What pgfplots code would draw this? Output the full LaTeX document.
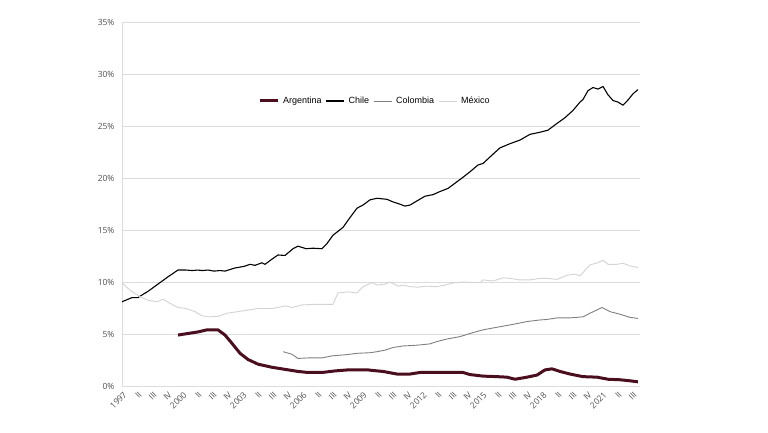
\documentclass[border=0pt]{standalone}
\usepackage{pgfplots}
\pgfplotsset{compat=1.18}
\usepackage{fontspec}
\setmainfont{Liberation Sans}
\newfontfamily\tickfont{Open Sans}
\definecolor{arg}{HTML}{4A0E1F}
\definecolor{col}{HTML}{7F7F7F}
\definecolor{mex}{HTML}{D3D3D3}
\definecolor{grid}{HTML}{DCDCDC}
\definecolor{ticktext}{HTML}{505050}
\begin{document}
\begin{tikzpicture}
\path[use as bounding box] (0pt,0pt) rectangle (768pt,432pt);
\begin{axis}[
  at={(122pt,46pt)}, anchor=south west,
  scale only axis, width=518pt, height=364pt,
  xmin=1997, xmax=2022.9, ymin=0, ymax=35,
  axis lines*=left,
  axis line style={draw=grid, line width=0.8pt},
  ymajorgrids, grid style={draw=grid, line width=0.8pt},
  major tick length=0pt,
  ytick={0,5,...,35},
  yticklabel={\pgfmathprintnumber{\tick}\%},
  /pgf/number format/assume math mode=true,
  yticklabel style={font=\tickfont\fontsize{8.5}{10}\selectfont, text=ticktext, xshift=-4pt},
  xtick={1997,1997.75,...,2022.6},
  xticklabels={1997,II,III,IV,2000,II,III,IV,2003,II,III,IV,2006,II,III,IV,2009,II,III,IV,2012,II,III,IV,2015,II,III,IV,2018,II,III,IV,2021,II,III},
  xticklabel style={font=\tickfont\fontsize{8.5}{10}\selectfont, text=ticktext, yshift=-5pt, xshift=1pt, rotate=45, anchor=north east, inner sep=0pt},
  legend style={at={(0.488,0.783)}, anchor=center, draw=none, fill=none, font=\fontsize{9}{11}\selectfont, column sep=2pt},
  legend columns=4,
  legend image code/.code={\draw[#1] (0pt,0pt) -- (18pt,0pt);},
  line join=round,
]
\addplot[arg, line width=3pt] coordinates {
(1999.8,4.9)(2000.3,5.05)(2000.8,5.2)(2001.25,5.4)(2001.8,5.4)(2002.15,4.9)(2002.5,4.1)(2002.9,3.15)(2003.3,2.55)(2003.8,2.1)(2004.5,1.8)(2005.15,1.6)(2005.8,1.4)(2006.3,1.3)(2007.0,1.3)(2007.65,1.45)(2008.3,1.55)(2009.3,1.55)(2009.5,1.5)(2010.05,1.4)(2010.75,1.15)(2011.4,1.15)(2011.9,1.3)(2012.75,1.3)(2014.05,1.3)(2014.4,1.1)(2015.05,0.95)(2015.75,0.9)(2016.25,0.85)(2016.65,0.65)(2017.25,0.85)(2017.75,1.05)(2018.15,1.55)(2018.5,1.65)(2018.9,1.4)(2019.4,1.15)(2020.05,0.9)(2020.75,0.85)(2021.3,0.65)(2021.9,0.6)(2022.4,0.5)(2022.8,0.4)
};
\addlegendentry{Argentina}
\addplot[black, line width=1.1pt] coordinates {
(1997.0,8.1)(1997.5,8.5)(1997.8,8.5)(1998.0,8.75)(1998.3,9.1)(1998.8,9.8)(1999.3,10.5)(1999.8,11.15)(2000.2,11.15)(2000.5,11.1)(2000.8,11.15)(2001.0,11.1)(2001.3,11.15)(2001.6,11.05)(2001.9,11.1)(2002.15,11.05)(2002.4,11.2)(2002.65,11.35)(2003.1,11.5)(2003.4,11.7)(2003.65,11.6)(2004.0,11.85)(2004.15,11.7)(2004.5,12.2)(2004.8,12.6)(2005.15,12.55)(2005.55,13.2)(2005.8,13.45)(2006.2,13.2)(2006.55,13.25)(2007.0,13.2)(2007.25,13.7)(2007.55,14.5)(2008.05,15.25)(2008.4,16.2)(2008.75,17.1)(2009.05,17.4)(2009.4,17.9)(2009.75,18.05)(2010.25,17.95)(2010.55,17.7)(2010.8,17.55)(2011.15,17.3)(2011.4,17.4)(2011.75,17.8)(2012.15,18.25)(2012.55,18.4)(2012.9,18.7)(2013.3,19.0)(2013.65,19.5)(2013.98,19.97)(2014.4,20.6)(2014.8,21.25)(2015.05,21.4)(2015.5,22.2)(2015.9,22.9)(2016.4,23.3)(2016.9,23.65)(2017.4,24.2)(2017.9,24.4)(2018.3,24.6)(2018.75,25.25)(2019.15,25.8)(2019.55,26.5)(2019.9,27.3)(2020.05,27.55)(2020.3,28.4)(2020.55,28.7)(2020.8,28.55)(2021.05,28.8)(2021.3,28.0)(2021.55,27.45)(2021.8,27.3)(2022.05,27.0)(2022.3,27.5)(2022.55,28.1)(2022.8,28.5)
};
\addlegendentry{Chile}
\addplot[col, line width=0.9pt] coordinates {
(2005.05,3.3)(2005.5,3.05)(2005.8,2.65)(2006.3,2.7)(2007.0,2.7)(2007.5,2.9)(2008.15,3.0)(2008.8,3.15)(2009.4,3.2)(2009.75,3.3)(2010.15,3.45)(2010.55,3.7)(2011.05,3.85)(2011.55,3.9)(2011.9,3.95)(2012.4,4.05)(2012.7,4.25)(2013.2,4.5)(2013.9,4.75)(2014.4,5.05)(2015.05,5.4)(2015.75,5.65)(2016.05,5.75)(2016.75,6.0)(2017.25,6.2)(2017.9,6.35)(2018.25,6.4)(2018.75,6.55)(2019.4,6.55)(2020.05,6.65)(2020.4,7.0)(2021.0,7.55)(2021.4,7.15)(2021.9,6.9)(2022.4,6.6)(2022.8,6.5)
};
\addlegendentry{Colombia}
\addplot[mex, line width=0.9pt] coordinates {
(1997.0,9.95)(1997.4,9.2)(1997.9,8.6)(1998.3,8.25)(1998.75,8.1)(1999.05,8.35)(1999.4,7.95)(1999.8,7.55)(2000.2,7.45)(2000.65,7.15)(2001.0,6.75)(2001.4,6.65)(2001.8,6.7)(2002.25,7.0)(2002.8,7.15)(2003.3,7.3)(2003.8,7.45)(2004.5,7.45)(2004.8,7.55)(2005.15,7.7)(2005.5,7.55)(2006.0,7.8)(2006.65,7.85)(2007.55,7.85)(2007.8,8.95)(2008.3,9.05)(2008.75,8.95)(2009.05,9.55)(2009.5,9.95)(2009.75,9.7)(2010.15,9.8)(2010.4,10.0)(2010.8,9.6)(2011.05,9.7)(2011.4,9.55)(2011.8,9.5)(2012.2,9.6)(2012.7,9.55)(2013.15,9.7)(2013.55,9.9)(2014.05,10.0)(2014.55,9.95)(2014.9,9.95)(2015.05,10.2)(2015.55,10.1)(2016.05,10.4)(2016.4,10.35)(2016.9,10.2)(2017.4,10.2)(2017.9,10.35)(2018.25,10.35)(2018.75,10.25)(2019.25,10.65)(2019.65,10.75)(2019.9,10.6)(2020.4,11.65)(2020.8,11.85)(2021.05,12.1)(2021.3,11.7)(2021.75,11.7)(2022.05,11.8)(2022.4,11.55)(2022.8,11.4)
};
\addlegendentry{México}
\end{axis}
\end{tikzpicture}
\end{document}
